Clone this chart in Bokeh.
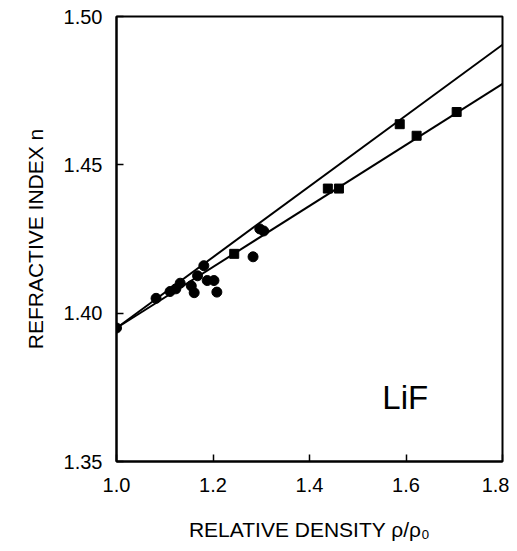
from bokeh.plotting import figure
from bokeh.models import Range1d, Label
from bokeh.embed import file_html
from bokeh.resources import INLINE

# Data
circle_x = [1.000, 1.082, 1.111, 1.123, 1.132, 1.155, 1.161, 1.168, 1.181, 1.188,
            1.202, 1.208, 1.283, 1.297, 1.305]
circle_y = [1.395, 1.405, 1.4073, 1.4082, 1.4101, 1.4092, 1.4069, 1.4126, 1.4160, 1.4110,
            1.4110, 1.4071, 1.4190, 1.4284, 1.4277]

square_x = [1.244, 1.438, 1.461, 1.587, 1.622, 1.705]
square_y = [1.420, 1.442, 1.442, 1.4637, 1.4598, 1.4678]

line_x = [1.0, 1.8]
upper_line_y = [1.395, 1.4905]
lower_line_y = [1.395, 1.4773]

x_ticks = [1.0, 1.2, 1.4, 1.6, 1.8]
y_ticks = [1.35, 1.40, 1.45, 1.50]

FONT = "Liberation Sans"

p = figure(width=509, height=543, output_backend="svg", toolbar_location=None,
           x_range=Range1d(1.0, 1.8), y_range=Range1d(1.35, 1.50),
           min_border_left=116, min_border_right=7, min_border_top=16, min_border_bottom=81)

p.background_fill_color = "white"
p.border_fill_color = "white"
p.outline_line_color = "black"
p.outline_line_width = 2
p.xgrid.visible = False
p.ygrid.visible = False

p.line(line_x, upper_line_y, line_color="black", line_width=2)
p.line(line_x, lower_line_y, line_color="black", line_width=2)
p.scatter(circle_x, circle_y, marker="circle", size=10, fill_color="black", line_color="black")
p.scatter(square_x, square_y, marker="square", size=9, fill_color="black", line_color="black")

for ax in (p.xaxis[0], p.yaxis[0]):
    ax.axis_line_width = 2
    ax.axis_line_color = "black"
    ax.major_tick_in = 7
    ax.major_tick_out = 0
    ax.major_tick_line_width = 1.5
    ax.minor_tick_line_color = None
    ax.major_label_text_font = FONT
    ax.major_label_text_font_size = "20px"
    ax.major_label_text_color = "black"
    ax.axis_label_text_font = FONT
    ax.axis_label_text_font_style = "normal"
    ax.axis_label_text_color = "black"

p.xaxis.ticker = x_ticks
p.yaxis.ticker = y_ticks
p.xaxis.major_label_overrides = {1.0: "1.0", 1.2: "1.2", 1.4: "1.4", 1.6: "1.6", 1.8: "1.8"}
p.yaxis.major_label_overrides = {1.35: "1.35", 1.40: "1.40", 1.45: "1.45", 1.50: "1.50"}

p.xaxis.major_label_standoff = 16
p.yaxis.major_label_standoff = 14
p.xaxis.axis_label = "RELATIVE DENSITY ρ/ρ₀"
p.yaxis.axis_label = "REFRACTIVE INDEX n"
p.xaxis.axis_label_text_font_size = "21px"
p.yaxis.axis_label_text_font_size = "21px"
p.xaxis.axis_label_standoff = 23
p.yaxis.axis_label_standoff = 14

p.add_layout(Label(x=1.551, y=1.3715, text="LiF", text_font=FONT, text_font_size="33px",
                   text_color="black", text_baseline="alphabetic", text_align="left"))

open("out.html", "w").write(file_html(p, INLINE))
